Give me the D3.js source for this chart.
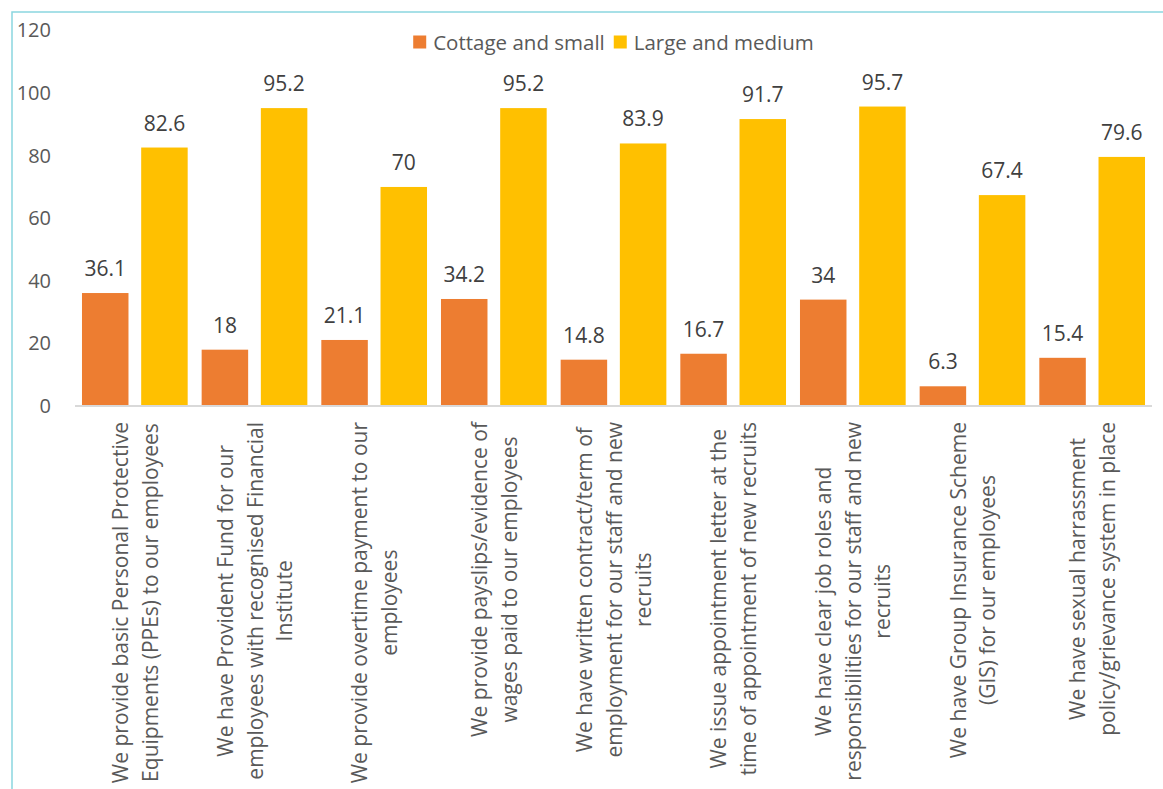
<!DOCTYPE html>
<html>
<head>
<meta charset="utf-8">
<script src="https://cdn.jsdelivr.net/npm/d3@7"></script>
<style>
  body { margin: 0; background: #fff; }
  text { font-family: "Open Sans", "Noto Sans", sans-serif; }
</style>
</head>
<body>
<div id="chart"></div>
<script>
// chart data
const categories = [
  ["We provide basic Personal Protective", "Equipments (PPEs) to our employees"],
  ["We have Provident Fund for our", "employees with recognised Financial", "Institute"],
  ["We provide overtime payment to our", "employees"],
  ["We provide payslips/evidence of", "wages paid to our employees"],
  ["We have written contract/term of", "employment for our staff and new", "recruits"],
  ["We issue appointment letter at the", "time of appointment of new recruits"],
  ["We have clear job roles and", "responsibilities for our staff and new", "recruits"],
  ["We have Group Insurance Scheme", "(GIS) for our employees"],
  ["We have sexual harrassment", "policy/grievance system in place"]
];
const seriesNames = ["Cottage and small", "Large and medium"];
const cottageSmall = [36.1, 18, 21.1, 34.2, 14.8, 16.7, 34, 6.3, 15.4];
const largeMedium = [82.6, 95.2, 70, 95.2, 83.9, 91.7, 95.7, 67.4, 79.6];
const yTicks = [0, 20, 40, 60, 80, 100, 120];
const colors = ["#ed7d31", "#ffc000"];

const width = 1163, height = 789;
const margin = { left: 75, right: 11, top: 30.5, bottom: 383 };

const svg = d3.select("#chart").append("svg")
  .attr("width", width)
  .attr("height", height);

// chart border (runs off the right and bottom edge)
svg.append("rect")
  .attr("x", 12).attr("y", 12)
  .attr("width", width + 20).attr("height", height + 20)
  .attr("fill", "none")
  .attr("stroke", "#8ad6df")
  .attr("stroke-width", 1.5);

const keys = categories.map((d, i) => "c" + i);
const x = d3.scaleBand().domain(keys).range([margin.left, width - margin.right]);
const xInner = d3.scaleBand().domain(seriesNames).range([0, x.bandwidth()])
  .paddingInner(0.2145).paddingOuter(0.118);
const y = d3.scaleLinear().domain([0, 120]).range([height - margin.bottom, margin.top]);

// y axis labels only
const yAxis = svg.append("g")
  .attr("transform", `translate(${margin.left - 24},0)`)
  .call(d3.axisLeft(y).tickValues(yTicks).tickSize(0).tickPadding(0));
yAxis.select(".domain").remove();
yAxis.selectAll("text")
  .attr("fill", "#595959")
  .style("font-size", "20px")
  .style("font-family", "'Open Sans', sans-serif");

const rows = keys.map((k, i) => ({ key: k, values: [cottageSmall[i], largeMedium[i]] }));

const groups = svg.selectAll(".cat")
  .data(rows)
  .join("g")
  .attr("class", "cat")
  .attr("transform", d => `translate(${x(d.key)},0)`);

groups.selectAll("rect")
  .data(d => d.values.map((v, j) => ({ s: seriesNames[j], v: v, j: j })))
  .join("rect")
  .attr("x", d => xInner(d.s))
  .attr("y", d => y(d.v))
  .attr("width", xInner.bandwidth())
  .attr("height", d => y(0) - y(d.v))
  .attr("fill", d => colors[d.j]);

groups.selectAll(".val")
  .data(d => d.values.map((v, j) => ({ s: seriesNames[j], v: v })))
  .join("text")
  .attr("class", "val")
  .attr("x", d => xInner(d.s) + xInner.bandwidth() / 2)
  .attr("y", d => y(d.v) - 17)
  .attr("text-anchor", "middle")
  .attr("fill", "#404040")
  .style("font-size", "21px")
  .text(d => d.v);

// baseline
svg.append("line")
  .attr("x1", margin.left).attr("x2", width - margin.right)
  .attr("y1", y(0)).attr("y2", y(0))
  .attr("stroke", "#d9d9d9")
  .attr("stroke-width", 2);

// rotated category labels
const lineGap = 29.5;
const labelTop = y(0) + 16;
categories.forEach((lines, i) => {
  const cx = x(keys[i]) + x.bandwidth() / 2;
  const g = svg.append("g").attr("transform", `translate(${cx},${labelTop}) rotate(-90)`);
  const t = g.selectAll("text")
    .data(lines)
    .join("text")
    .attr("y", (d, k) => (k - (lines.length - 1) / 2) * lineGap)
    .attr("dominant-baseline", "central")
    .attr("text-anchor", "middle")
    .attr("fill", "#595959")
    .style("font-size", "21px")
    .text(d => d);
  const maxLen = d3.max(t.nodes(), n => n.getComputedTextLength());
  t.attr("x", -maxLen / 2);
});

// legend
const legend = svg.append("g");
let lx = 0;
seriesNames.forEach((name, i) => {
  legend.append("rect")
    .attr("x", lx).attr("y", -6.5)
    .attr("width", 13).attr("height", 13)
    .attr("fill", colors[i]);
  const t = legend.append("text")
    .attr("x", lx + 20).attr("y", 0)
    .attr("dominant-baseline", "central")
    .attr("fill", "#595959")
    .style("font-size", "20.5px")
    .text(name);
  lx += 20 + t.node().getComputedTextLength() + 9;
});
const legendW = lx - 9;
legend.attr("transform", `translate(${(margin.left + width - margin.right) / 2 - legendW / 2},42)`);
</script>
</body>
</html>
